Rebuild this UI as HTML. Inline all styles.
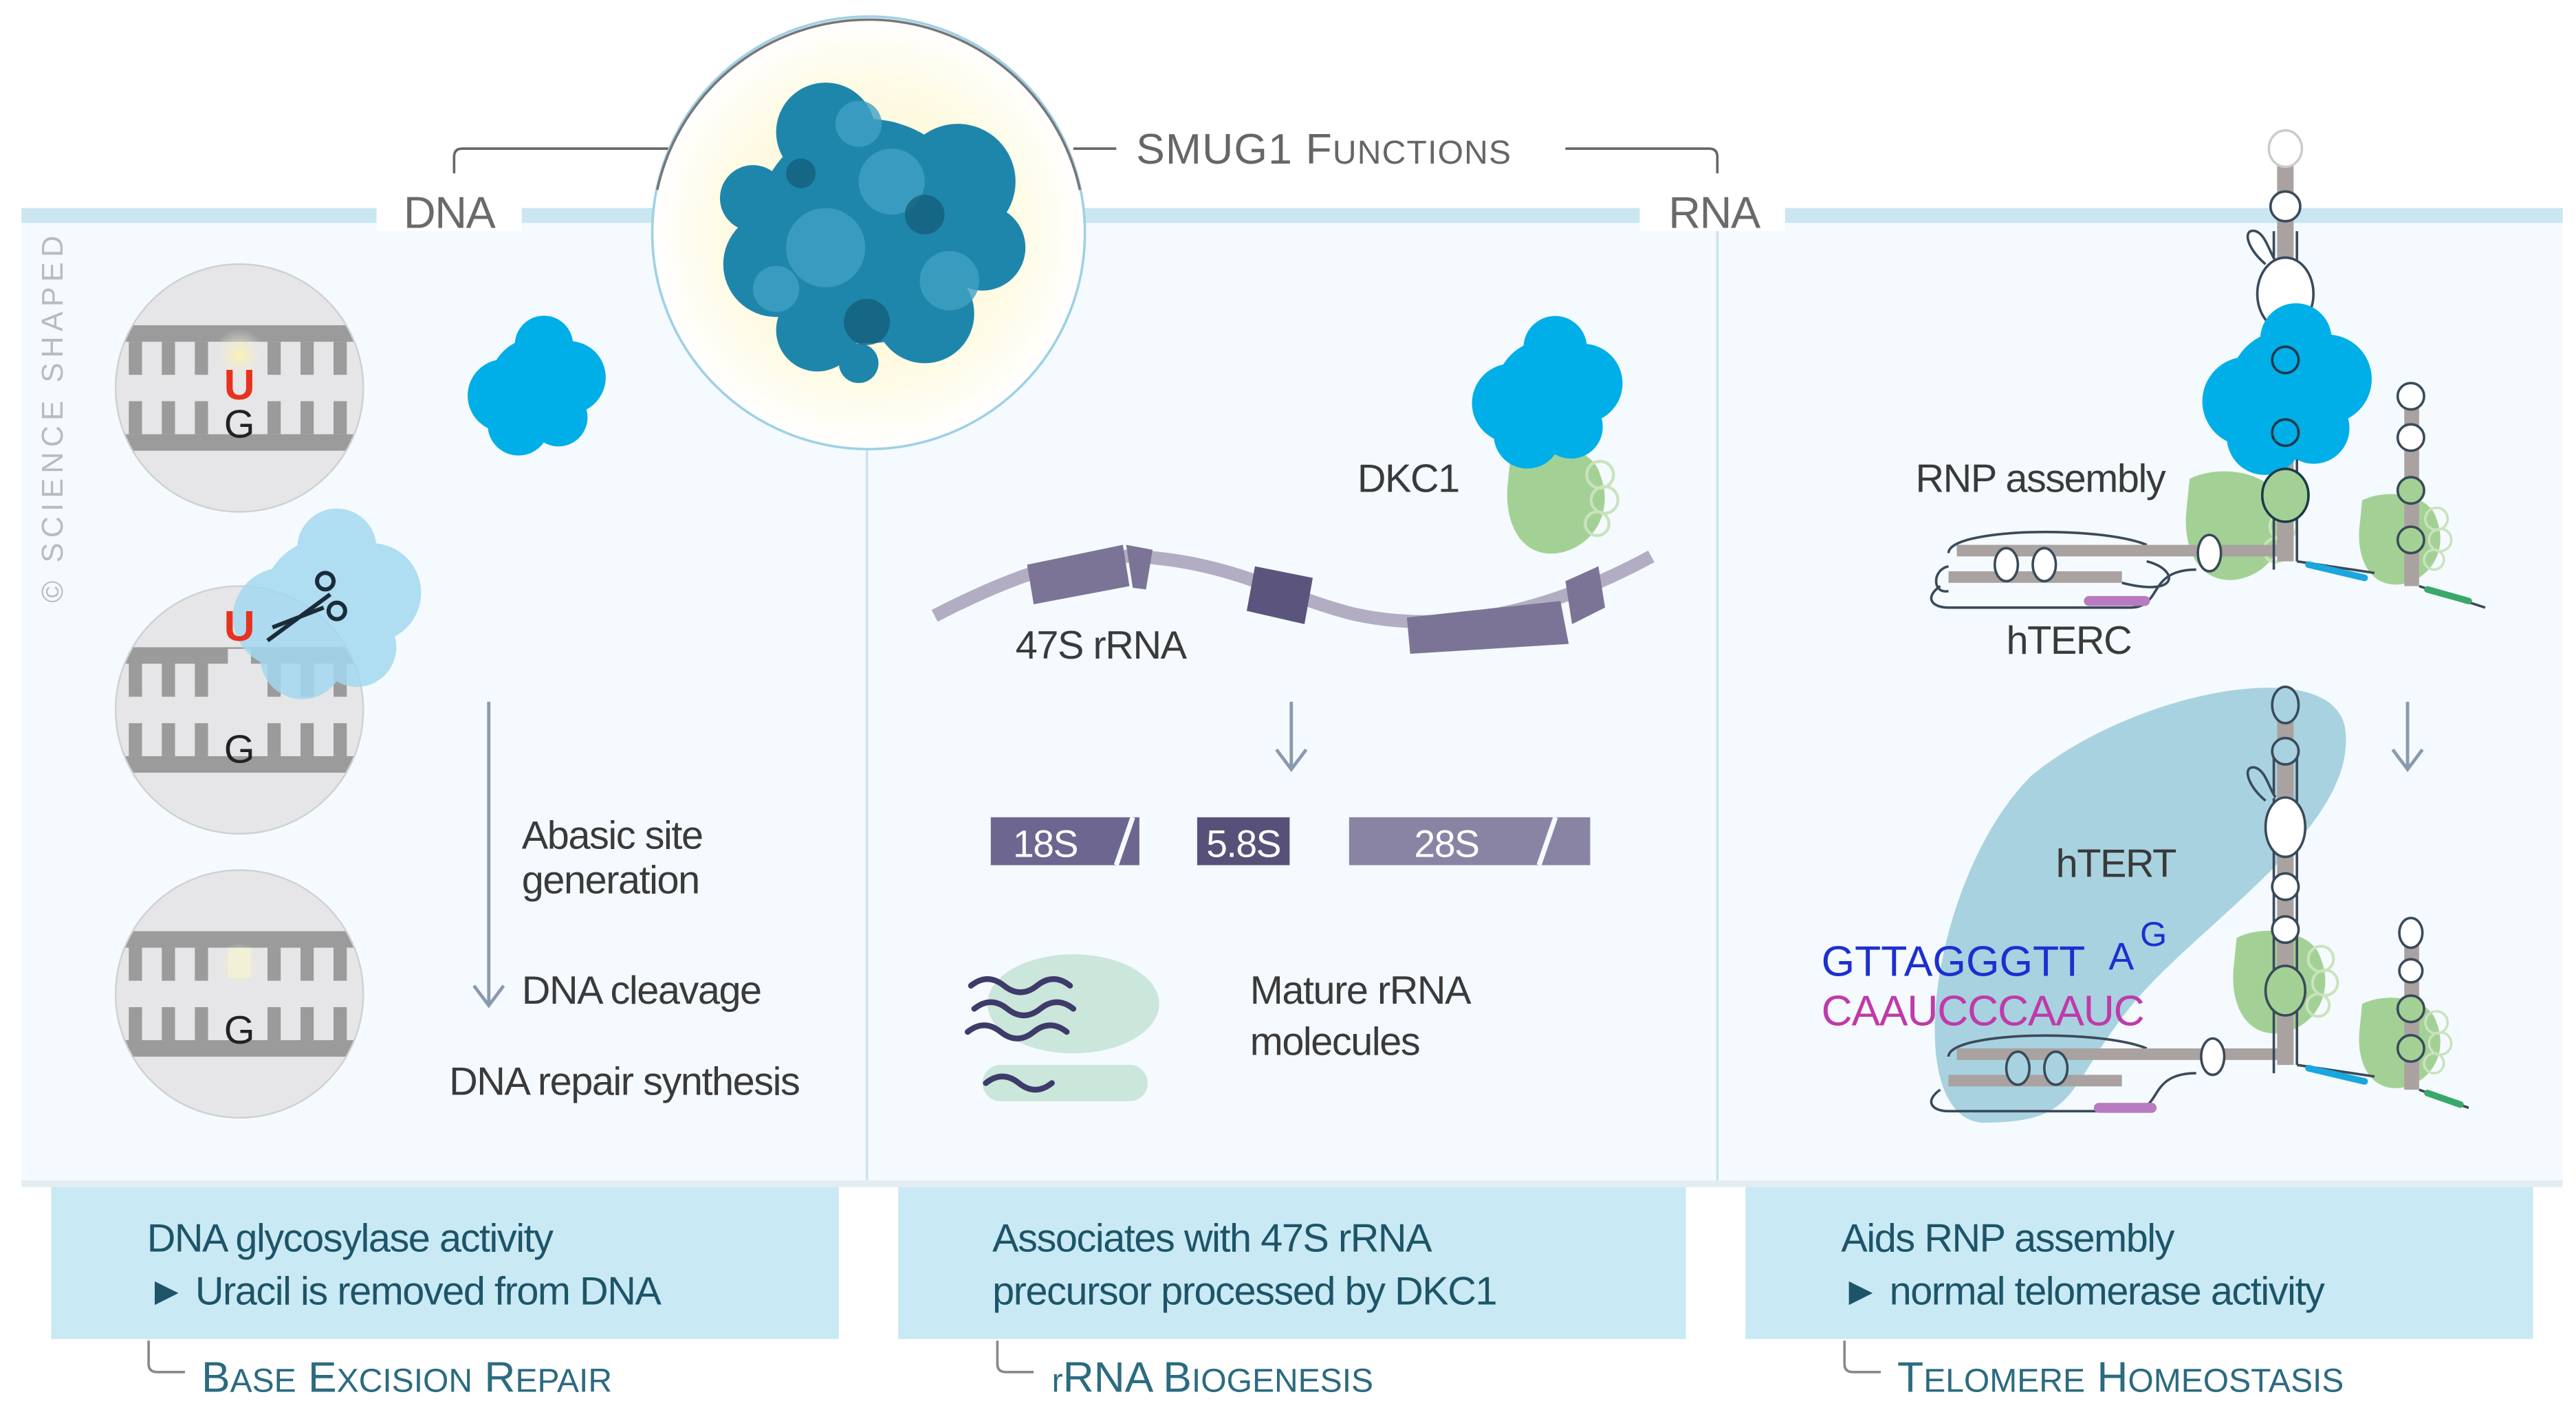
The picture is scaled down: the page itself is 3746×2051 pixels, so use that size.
<!DOCTYPE html>
<html><head><meta charset="utf-8"><style>
html,body{margin:0;padding:0;background:#fff;}
svg{display:block;}
text{font-family:"Liberation Sans Narrow","Liberation Sans",sans-serif;}
.t{letter-spacing:-0.6px;}
</style></head><body>
<svg width="3746" height="2051" viewBox="0 0 1560 854" preserveAspectRatio="none" xmlns="http://www.w3.org/2000/svg">
<defs>
<radialGradient id="glow" cx="0.5" cy="0.5" r="0.5">
<stop offset="0" stop-color="#fdf6c8"/><stop offset="0.7" stop-color="#fefbe6"/><stop offset="1" stop-color="#ffffff"/>
</radialGradient>
<radialGradient id="ug" cx="0.5" cy="0.5" r="0.5">
<stop offset="0" stop-color="#fdf2b0"/><stop offset="1" stop-color="#e6e6e8" stop-opacity="0"/>
</radialGradient>
<clipPath id="c1"><circle cx="145" cy="235" r="75"/></clipPath>
<clipPath id="c2"><circle cx="145" cy="430" r="75"/></clipPath>
<clipPath id="c3"><circle cx="145" cy="602" r="75"/></clipPath>
<g id="ladder">
<rect x="60" y="-38" width="170" height="10" fill="#9b9b9b"/>
<rect x="60" y="28" width="170" height="10" fill="#9b9b9b"/>
<g fill="#9b9b9b">
<rect x="78" y="-28" width="8" height="20"/><rect x="98" y="-28" width="8" height="20"/><rect x="118" y="-28" width="8" height="20"/><rect x="162" y="-28" width="8" height="20"/><rect x="182" y="-28" width="8" height="20"/><rect x="202" y="-28" width="8" height="20"/>
<rect x="78" y="8" width="8" height="20"/><rect x="98" y="8" width="8" height="20"/><rect x="118" y="8" width="8" height="20"/><rect x="162" y="8" width="8" height="20"/><rect x="182" y="8" width="8" height="20"/><rect x="202" y="8" width="8" height="20"/>
</g>
</g>
<g id="blob">
<circle cx="0" cy="0" r="26"/><circle cx="-18" cy="6" r="20"/><circle cx="18" cy="-4" r="20"/><circle cx="4" cy="-22" r="16"/><circle cx="-10" cy="22" r="17"/><circle cx="12" cy="18" r="16"/>
</g>
<g id="green">
<path d="M-30,-20 C-10,-30 25,-25 30,-5 C40,20 25,45 0,48 C-25,50 -35,25 -32,0 Z" fill="#a3d195"/>
<g fill="none" stroke="#c9e3bd" stroke-width="2"><circle cx="30" cy="-5" r="9"/><circle cx="33" cy="12" r="9"/><circle cx="28" cy="28" r="8"/></g>
</g>
</defs>

<rect x="13" y="130" width="1539" height="588" fill="#f4fafd"/>
<rect x="13" y="126" width="1539" height="9" fill="#c9e6f1"/>
<line x1="525" y1="270" x2="525" y2="716" stroke="#c9e3ee" stroke-width="1.5"/>
<line x1="1040" y1="135" x2="1040" y2="716" stroke="#c9e3ee" stroke-width="1.5"/>
<rect x="13" y="715" width="1539" height="4" fill="#e3edf1"/>
<rect x="228" y="120" width="88" height="20" fill="#fff"/>
<rect x="993" y="120" width="88" height="20" fill="#fff"/>
<text x="272" y="138" font-size="27" fill="#6a6a6a" text-anchor="middle" class="t">DNA</text>
<text x="1038" y="138" font-size="27" fill="#6a6a6a" text-anchor="middle" class="t">RNA</text>

<path d="M275,105 V95 Q275,90 280,90 H405" fill="none" stroke="#666" stroke-width="1.5"/>
<path d="M650,90 H676" fill="none" stroke="#666" stroke-width="1.5"/>
<path d="M948,90 H1035 Q1040,90 1040,95 V105" fill="none" stroke="#666" stroke-width="1.5"/>
<text x="688" y="99" font-size="26" fill="#666" letter-spacing="0.5">SMUG1 F<tspan font-size="20">UNCTIONS</tspan></text>

<circle cx="526" cy="141" r="131" fill="url(#glow)" stroke="#9fd0e6" stroke-width="1.5"/>
<path d="M398,115 A131,131 0 0 1 654,115" fill="none" stroke="#777" stroke-width="1.5"/>
<g fill="#1f86ab">
<circle cx="525" cy="140" r="68"/><circle cx="470" cy="160" r="32"/><circle cx="580" cy="110" r="35"/><circle cx="500" cy="80" r="30"/><circle cx="560" cy="190" r="30"/><circle cx="495" cy="200" r="25"/><circle cx="595" cy="150" r="26"/><circle cx="456" cy="120" r="20"/><circle cx="520" cy="220" r="12"/>
</g>
<g fill="#3fa1c4" opacity="0.8">
<circle cx="500" cy="150" r="24"/><circle cx="540" cy="110" r="20"/><circle cx="575" cy="170" r="18"/><circle cx="520" cy="75" r="14"/><circle cx="470" cy="175" r="14"/>
</g>
<g fill="#145f7d" opacity="0.8">
<circle cx="560" cy="130" r="12"/><circle cx="525" cy="195" r="14"/><circle cx="485" cy="105" r="9"/>
</g>

<text transform="translate(38,365) rotate(-90)" font-size="18" fill="#b8bcbf" letter-spacing="3" font-family="Liberation Sans,sans-serif">© SCIENCE SHAPED</text>

<g clip-path="url(#c1)"><circle cx="145" cy="235" r="75" fill="#e6e6e8"/><use href="#ladder" y="235"/><circle cx="145" cy="215" r="16" fill="url(#ug)"/></g>
<circle cx="145" cy="235" r="75" fill="none" stroke="#d0d0d2" stroke-width="1"/>
<text x="145" y="242" font-size="26" font-weight="bold" fill="#e8321e" text-anchor="middle" font-family="Liberation Sans,sans-serif">U</text>
<text x="145" y="265" font-size="24" fill="#222" text-anchor="middle" font-family="Liberation Sans,sans-serif">G</text>
<g fill="#00aee8" transform="translate(325,233) scale(1.1)"><use href="#blob"/></g>

<g clip-path="url(#c2)"><circle cx="145" cy="430" r="75" fill="#e6e6e8"/><use href="#ladder" y="430"/><rect x="138" y="393" width="14" height="10" fill="#e6e6e8"/></g>
<circle cx="145" cy="430" r="75" fill="none" stroke="#d0d0d2" stroke-width="1"/>
<g fill="#a4d8f0" opacity="0.85" transform="translate(198,365) scale(1.5)"><use href="#blob"/></g>
<text x="145" y="388" font-size="26" font-weight="bold" fill="#e8321e" text-anchor="middle" font-family="Liberation Sans,sans-serif">U</text>
<text x="145" y="462" font-size="24" fill="#222" text-anchor="middle" font-family="Liberation Sans,sans-serif">G</text>
<g stroke="#1b2b3a" stroke-width="2.5" fill="none"><line x1="162" y1="388" x2="200" y2="360"/><line x1="165" y1="380" x2="196" y2="368"/><circle cx="197" cy="352" r="5"/><circle cx="204" cy="370" r="5"/></g>

<g clip-path="url(#c3)"><circle cx="145" cy="602" r="75" fill="#e6e6e8"/><use href="#ladder" y="602"/><circle cx="145" cy="585" r="14" fill="url(#ug)"/><rect x="138" y="574" width="14" height="18" fill="#f3f0d8"/></g>
<circle cx="145" cy="602" r="75" fill="none" stroke="#d0d0d2" stroke-width="1"/>
<text x="145" y="632" font-size="24" fill="#222" text-anchor="middle" font-family="Liberation Sans,sans-serif">G</text>

<line x1="296" y1="425" x2="296" y2="608" stroke="#8a9aae" stroke-width="2"/>
<path d="M287,597 L296,609 L305,597" fill="none" stroke="#8a9aae" stroke-width="2"/>
<g font-size="24" fill="#3a3a3a" class="t">
<text x="316" y="514">Abasic site</text>
<text x="316" y="541">generation</text>
<text x="316" y="608">DNA cleavage</text>
<text x="272" y="663">DNA repair synthesis</text>
</g>

<g transform="translate(942,292)"><use href="#green" transform="scale(0.9)"/></g>
<g fill="#00aee8" transform="translate(937,237) scale(1.2)"><use href="#blob"/></g>
<text x="822" y="298" font-size="24" fill="#3a3a3a" class="t">DKC1</text>
<path d="M566,373 C620,345 660,333 700,338 C750,343 780,362 820,372 C870,383 930,375 1000,337" fill="none" stroke="#b3adc4" stroke-width="8"/>
<path d="M622,342 L680,330 L684,355 L626,366 Z" fill="#7c7496"/>
<path d="M682,330 L698,333 L694,357 L686,356 Z" fill="#7c7496"/>
<path d="M760,343 L795,350 L790,378 L755,370 Z" fill="#5b557e"/>
<path d="M852,374 L945,364 L950,390 L854,396 Z" fill="#7c7496"/>
<path d="M948,352 L968,343 L972,368 L952,378 Z" fill="#7c7496"/>
<text x="615" y="399" font-size="24" fill="#3a3a3a" class="t">47S rRNA</text>
<line x1="782" y1="425" x2="782" y2="465" stroke="#8a9aae" stroke-width="2"/>
<path d="M773,454 L782,466 L791,454" fill="none" stroke="#8a9aae" stroke-width="2"/>
<rect x="600" y="495" width="90" height="29" fill="#6c6690"/>
<rect x="725" y="495" width="56" height="29" fill="#57517a"/>
<rect x="817" y="495" width="146" height="29" fill="#8a84a4"/>
<line x1="686" y1="495" x2="676" y2="524" stroke="#f4fafd" stroke-width="3"/>
<line x1="942" y1="495" x2="932" y2="524" stroke="#f4fafd" stroke-width="3"/>
<text x="633" y="519" font-size="23" fill="#fff" text-anchor="middle" class="t">18S</text>
<text x="753" y="519" font-size="23" fill="#fff" text-anchor="middle" class="t">5.8S</text>
<text x="876" y="519" font-size="23" fill="#fff" text-anchor="middle" class="t">28S</text>
<ellipse cx="650" cy="608" rx="52" ry="30" fill="#cbe6da"/>
<rect x="595" y="645" width="100" height="22" rx="11" fill="#cbe6da"/>
<g fill="none" stroke="#3e3a6a" stroke-width="3.5" stroke-linecap="round">
<path d="M588,597 q10,-8 20,0 t20,0 t20,0"/><path d="M590,611 q10,-8 20,0 t20,0 t20,0"/><path d="M586,625 q10,-8 20,0 t20,0 t20,0"/><path d="M597,656 q10,-8 20,0 t20,0"/>
</g>
<text x="757" y="608" font-size="24" fill="#3a3a3a" class="t">Mature rRNA</text>
<text x="757" y="639" font-size="24" fill="#3a3a3a" class="t">molecules</text>

<text x="1160" y="298" font-size="24" fill="#3a3a3a" class="t">RNP assembly</text>
<text x="1215" y="396" font-size="24" fill="#3a3a3a" class="t">hTERC</text>
<line x1="1458" y1="425" x2="1458" y2="465" stroke="#8a9aae" stroke-width="2"/>
<path d="M1449,454 L1458,466 L1467,454" fill="none" stroke="#8a9aae" stroke-width="2"/>
<path d="M1230,470 C1290,420 1410,395 1420,440 C1430,500 1330,560 1290,610 C1250,660 1260,680 1200,680 C1150,675 1170,530 1230,470 Z" fill="#a8d2e0"/>
<text x="1245" y="531" font-size="24" fill="#3a3a3a" class="t">hTERT</text>
<text x="1103" y="591" font-size="26" fill="#1d2fd0" letter-spacing="0">GTTAGGGTT</text>
<text x="1277" y="587" font-size="23" fill="#1d2fd0">A</text>
<text x="1296" y="573" font-size="21" fill="#1d2fd0">G</text>
<text x="1103" y="621" font-size="26" fill="#c03aa8" letter-spacing="-0.5">CAAUCCCAAUC</text>

<g>
<g transform="translate(1353,308)"><use href="#green" transform="scale(0.9)"/></g>
<g transform="translate(1453,318)"><use href="#green" transform="scale(0.75)"/></g>
<path d="M1180,335 C1180,320 1270,318 1300,330" fill="none" stroke="#3a4a5a" stroke-width="1.5"/>
<rect x="1185" y="330" width="195" height="7" fill="#a9a2a0"/>
<rect x="1180" y="346" width="105" height="7" fill="#a9a2a0"/>
<path d="M1180,358 C1170,360 1170,345 1180,343 M1285,353 C1320,362 1320,345 1300,340" fill="none" stroke="#3a4a5a" stroke-width="1.5"/>
<path d="M1175,355 C1165,362 1170,368 1180,368 H1290 C1310,368 1300,345 1330,345" fill="none" stroke="#3a4a5a" stroke-width="1.5"/>
<rect x="1262" y="361" width="40" height="6" rx="3" fill="#b87ac0"/>
<g fill="#fff" stroke="#3a4a5a" stroke-width="1.5"><ellipse cx="1215" cy="342" rx="7" ry="10"/><ellipse cx="1238" cy="342" rx="7" ry="10"/><ellipse cx="1338" cy="335" rx="7" ry="11"/></g>
<rect x="1379" y="95" width="10" height="245" fill="#a9a2a0"/>
<line x1="1377" y1="140" x2="1377" y2="345" stroke="#3a4a5a" stroke-width="1.5"/>
<line x1="1391" y1="140" x2="1391" y2="340" stroke="#3a4a5a" stroke-width="1.5"/>
<g fill="#fff" stroke="#3a4a5a" stroke-width="1.5">
<ellipse cx="1384" cy="90" rx="10" ry="11" stroke="#ccc"/>
<circle cx="1384" cy="125" r="9"/>
<path d="M1372,160 C1360,150 1358,138 1366,140 C1372,142 1374,152 1378,158"/>
<ellipse cx="1384" cy="178" rx="17" ry="22"/>
</g>
<g fill="#00aee8" transform="translate(1385,235) scale(1.35)"><use href="#blob"/></g>
<g fill="none" stroke="#1b3a4a" stroke-width="1.5"><circle cx="1384" cy="218" r="8"/><circle cx="1384" cy="262" r="8"/><ellipse cx="1384" cy="300" rx="14" ry="16" fill="#a3d195"/></g>
<line x1="1391" y1="340" x2="1438" y2="347" stroke="#3a4a5a" stroke-width="1.5"/>
<line x1="1398" y1="342" x2="1432" y2="350" stroke="#1aa6de" stroke-width="4" stroke-linecap="round"/>
<rect x="1456" y="245" width="9" height="110" fill="#a9a2a0"/>
<g fill="#fff" stroke="#3a4a5a" stroke-width="1.5"><circle cx="1460" cy="240" r="8"/><circle cx="1460" cy="265" r="8"/></g>
<g fill="#a3d195" stroke="#3a4a5a" stroke-width="1.5"><circle cx="1460" cy="297" r="8"/><circle cx="1460" cy="327" r="8"/></g>
<line x1="1465" y1="355" x2="1505" y2="368" stroke="#3a4a5a" stroke-width="1.5"/>
<line x1="1470" y1="357" x2="1495" y2="364" stroke="#3aa86a" stroke-width="4" stroke-linecap="round"/>
</g>
<g transform="translate(0,305)">
<g transform="translate(1380,280)"><use href="#green" transform="scale(0.85)"/></g>
<g transform="translate(1453,318)"><use href="#green" transform="scale(0.75)"/></g>
<path d="M1180,335 C1180,320 1270,318 1300,330" fill="none" stroke="#3a4a5a" stroke-width="1.5"/>
<rect x="1185" y="330" width="195" height="7" fill="#a9a2a0"/>
<rect x="1180" y="346" width="105" height="7" fill="#a9a2a0"/>
<path d="M1175,355 C1165,362 1170,368 1180,368 H1290 C1310,368 1300,345 1330,345" fill="none" stroke="#3a4a5a" stroke-width="1.5"/>
<rect x="1268" y="363" width="38" height="6" rx="3" fill="#b87ac0"/>
<g fill="#fff" stroke="#3a4a5a" stroke-width="1.5"><ellipse cx="1222" cy="342" rx="7" ry="10" fill="#a8d2e0"/><ellipse cx="1245" cy="342" rx="7" ry="10" fill="#a8d2e0"/><ellipse cx="1340" cy="335" rx="7" ry="11"/></g>
<rect x="1379" y="125" width="10" height="215" fill="#a9a2a0"/>
<line x1="1377" y1="150" x2="1377" y2="345" stroke="#3a4a5a" stroke-width="1.5"/>
<line x1="1391" y1="150" x2="1391" y2="340" stroke="#3a4a5a" stroke-width="1.5"/>
<g fill="#fff" stroke="#3a4a5a" stroke-width="1.5">
<ellipse cx="1384" cy="122" rx="8" ry="11" fill="#a8d2e0"/>
<circle cx="1384" cy="150" r="8" fill="#a8d2e0"/>
<path d="M1372,180 C1360,170 1358,158 1366,160 C1372,162 1374,172 1378,178" fill="#a8d2e0"/>
<ellipse cx="1384" cy="196" rx="12" ry="18"/>
<circle cx="1384" cy="232" r="8"/><circle cx="1384" cy="258" r="8"/>
<ellipse cx="1384" cy="295" rx="12" ry="15" fill="#a3d195"/>
</g>
<line x1="1391" y1="340" x2="1438" y2="347" stroke="#3a4a5a" stroke-width="1.5"/>
<line x1="1398" y1="342" x2="1432" y2="350" stroke="#1aa6de" stroke-width="4" stroke-linecap="round"/>
<rect x="1456" y="265" width="9" height="90" fill="#a9a2a0"/>
<g fill="#fff" stroke="#3a4a5a" stroke-width="1.5"><ellipse cx="1460" cy="260" rx="7" ry="9"/><circle cx="1460" cy="283" r="7"/></g>
<g fill="#a3d195" stroke="#3a4a5a" stroke-width="1.5"><circle cx="1460" cy="306" r="8"/><circle cx="1460" cy="330" r="8"/></g>
<line x1="1465" y1="355" x2="1495" y2="366" stroke="#3a4a5a" stroke-width="1.5"/>
<line x1="1470" y1="357" x2="1490" y2="364" stroke="#3aa86a" stroke-width="4" stroke-linecap="round"/>
</g>

<rect x="31" y="719" width="477" height="92" fill="#c9e9f4"/>
<rect x="544" y="719" width="477" height="92" fill="#c9e9f4"/>
<rect x="1057" y="719" width="477" height="92" fill="#c9e9f4"/>
<g font-size="24" fill="#1d5468" class="t">
<text x="89" y="758">DNA glycosylase activity</text>
<text x="89" y="790">► Uracil is removed from DNA</text>
<text x="601" y="758">Associates with 47S rRNA</text>
<text x="601" y="790">precursor processed by DKC1</text>
<text x="1115" y="758">Aids RNP assembly</text>
<text x="1115" y="790">► normal telomerase activity</text>
</g>
<g fill="none" stroke="#888" stroke-width="1.5">
<path d="M90,812 V826 Q90,831 95,831 H112"/>
<path d="M604,812 V826 Q604,831 609,831 H626"/>
<path d="M1117,812 V826 Q1117,831 1122,831 H1139"/>
</g>
<g font-size="26" fill="#2b6b80" letter-spacing="0">
<text x="122" y="843">B<tspan font-size="20">ASE</tspan> E<tspan font-size="20">XCISION</tspan> R<tspan font-size="20">EPAIR</tspan></text>
<text x="637" y="843"><tspan font-size="20">r</tspan>RNA B<tspan font-size="20">IOGENESIS</tspan></text>
<text x="1149" y="843">T<tspan font-size="20">ELOMERE</tspan> H<tspan font-size="20">OMEOSTASIS</tspan></text>
</g>
</svg>
</body></html>
